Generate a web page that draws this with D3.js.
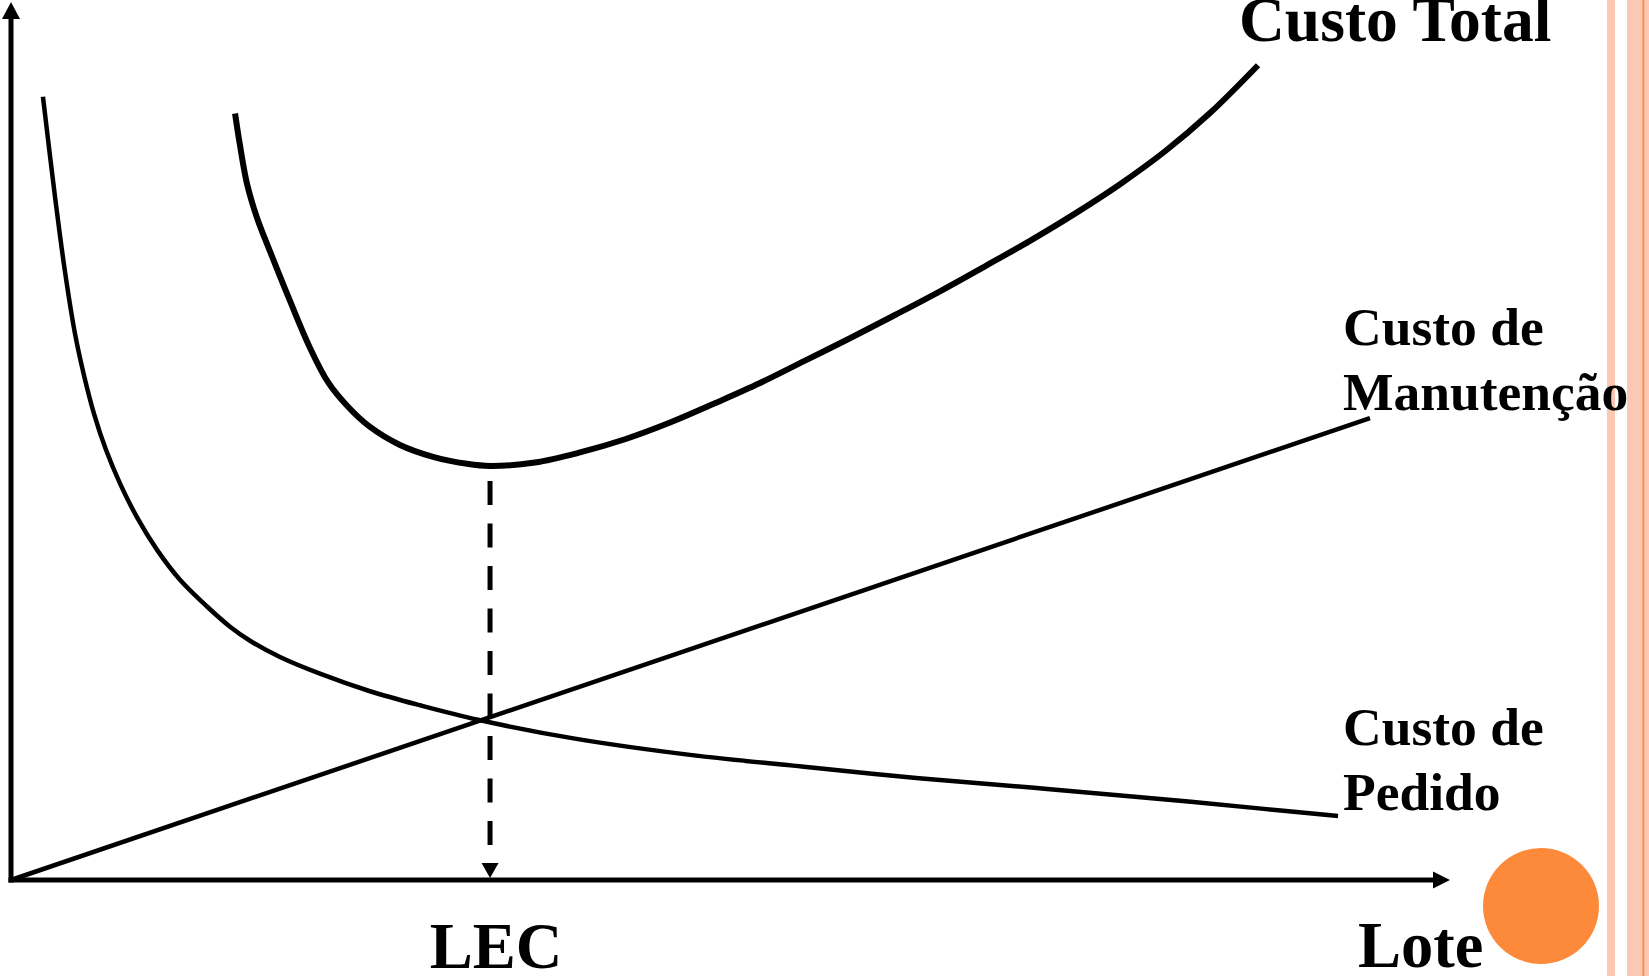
<!DOCTYPE html>
<html lang="pt">

<head>
    <meta charset="UTF-8">
    <title>Lote Econômico de Compra</title>
    <script src="https://d3js.org/d3.v7.min.js"></script>
    <style>
        body { margin: 0; background: #fff; overflow: hidden; }
        svg { display: block; }
        text { font-family: "Liberation Serif", "Times New Roman", serif; font-weight: bold; fill: #000; }
    </style>
</head>

<body>
    <div id="chart"></div>

    <script>
        // [lote, custo] pairs, both read on a 0-100 scale
        const custoPedido = [
            [2.22, 89.2], [3.06, 77.8], [3.75, 69.3], [4.45, 62.2], [5.07, 57.5],
            [5.77, 53.1], [6.60, 49.0], [7.58, 45.15], [8.76, 41.3], [10.15, 37.6],
            [11.74, 34.2], [13.62, 31.15], [15.22, 28.85], [16.61, 27.25], [18.69, 25.4],
            [21.47, 23.5], [24.95, 21.5], [28.42, 19.9], [32.45, 18.25], [39.19, 16.1],
            [47.19, 14.25], [55.11, 12.9], [63.10, 11.6], [71.09, 10.5], [79.08, 9.35],
            [87.07, 8.1], [92.22, 7.3]
        ];
        const custoManutencao = [[0, 0], [94.44, 52.6]];
        const custoTotal = [
            [15.57, 87.3], [15.91, 83.7], [16.40, 79.3], [17.10, 75.4], [18.0, 71.6],
            [19.39, 65.95], [20.78, 60.6], [22.03, 56.7], [23.42, 53.9], [24.95, 51.6],
            [27.03, 49.55], [29.33, 48.2], [31.69, 47.4], [33.29, 47.15], [36.41, 47.55],
            [39.54, 48.7], [42.67, 50.2], [45.80, 52.1], [48.92, 54.3], [52.05, 56.6],
            [55.18, 59.15], [58.30, 61.7], [61.43, 64.35], [64.56, 67.05], [67.69, 69.9],
            [70.81, 72.8], [73.94, 75.9], [77.07, 79.25], [80.20, 83.0], [83.32, 87.35],
            [86.66, 92.8]
        ];
        // lote econômico (minimum of the total cost)
        const lec = [33.29, 47.15];

        const labelTotal = ["Custo Total"];
        const labelManutencao = ["Custo de", "Manutenção"];
        const labelPedido = ["Custo de", "Pedido"];
        const labelLec = "LEC";
        const labelLote = "Lote";

        const width = 1649;
        const height = 976;

        const svg = d3.select("#chart")
            .append("svg")
            .attr("width", width)
            .attr("height", height);

        const xScale = d3.scaleLinear().domain([0, 100]).range([11, 1450]);
        const yScale = d3.scaleLinear().domain([0, 100]).range([880, 2]);

        // slide decoration on the right
        svg.append("rect").attr("x", 1607).attr("y", 0).attr("width", 8).attr("height", height).attr("fill", "#fcc8b3");
        svg.append("rect").attr("x", 1627).attr("y", 0).attr("width", 22).attr("height", height).attr("fill", "#fcc8b3");
        svg.append("rect").attr("x", 1642.5).attr("y", 0).attr("width", 1.8).attr("height", height).attr("fill", "#f98a45");
        svg.append("circle").attr("cx", 1541).attr("cy", 906).attr("r", 58).attr("fill", "#fd8a3a");

        const x0 = xScale(0), y0 = yScale(0);
        const xEnd = xScale(100), yEnd = yScale(100);

        // axes with arrow heads
        svg.append("line")
            .attr("x1", x0).attr("y1", y0 + 2.5)
            .attr("x2", x0).attr("y2", yEnd + 17)
            .attr("stroke", "#000").attr("stroke-width", 5);
        svg.append("path")
            .attr("d", `M${x0 - 9},${yEnd + 17}L${x0 + 9},${yEnd + 17}L${x0},${yEnd}Z`)
            .attr("fill", "#000");

        svg.append("line")
            .attr("x1", x0 - 2.5).attr("y1", y0)
            .attr("x2", xEnd - 17).attr("y2", y0)
            .attr("stroke", "#000").attr("stroke-width", 5);
        svg.append("path")
            .attr("d", `M${xEnd - 17},${y0 - 8.5}L${xEnd - 17},${y0 + 8.5}L${xEnd},${y0}Z`)
            .attr("fill", "#000");

        const line = d3.line()
            .x(d => xScale(d[0]))
            .y(d => yScale(d[1]))
            .curve(d3.curveCatmullRom.alpha(0.5));

        svg.append("path")
            .datum(custoManutencao)
            .attr("d", line)
            .attr("fill", "none").attr("stroke", "#000").attr("stroke-width", 4.5);

        svg.append("path")
            .datum(custoPedido)
            .attr("d", line)
            .attr("fill", "none").attr("stroke", "#000").attr("stroke-width", 4.5);

        svg.append("path")
            .datum(custoTotal)
            .attr("d", line)
            .attr("fill", "none").attr("stroke", "#000").attr("stroke-width", 6);

        // dashed drop line from the minimum to the axis
        const xl = xScale(lec[0]);
        svg.append("line")
            .attr("x1", xl).attr("y1", yScale(lec[1]) + 15)
            .attr("x2", xl).attr("y2", y0 - 17)
            .attr("stroke", "#000").attr("stroke-width", 5)
            .attr("stroke-dasharray", "24,18.5");
        svg.append("path")
            .attr("d", `M${xl - 8.5},${y0 - 17}L${xl + 8.5},${y0 - 17}L${xl},${y0 - 2}Z`)
            .attr("fill", "#000");

        // labels
        svg.append("text").attr("x", 1239).attr("y", 41)
            .attr("font-size", 63.5).text(labelTotal[0]);

        svg.selectAll(".lab-man")
            .data(labelManutencao)
            .join("text")
            .attr("x", 1343).attr("y", (d, i) => 345 + i * 65)
            .attr("font-size", 53.5).text(d => d);

        svg.selectAll(".lab-ped")
            .data(labelPedido)
            .join("text")
            .attr("x", 1343).attr("y", (d, i) => 745 + i * 65)
            .attr("font-size", 53.5).text(d => d);

        svg.append("text").attr("x", xl + 6).attr("y", 968)
            .attr("text-anchor", "middle")
            .attr("font-size", 64.5).text(labelLec);

        svg.append("text").attr("x", 1358).attr("y", 967)
            .attr("font-size", 64.5).text(labelLote);
    </script>
</body>

</html>
